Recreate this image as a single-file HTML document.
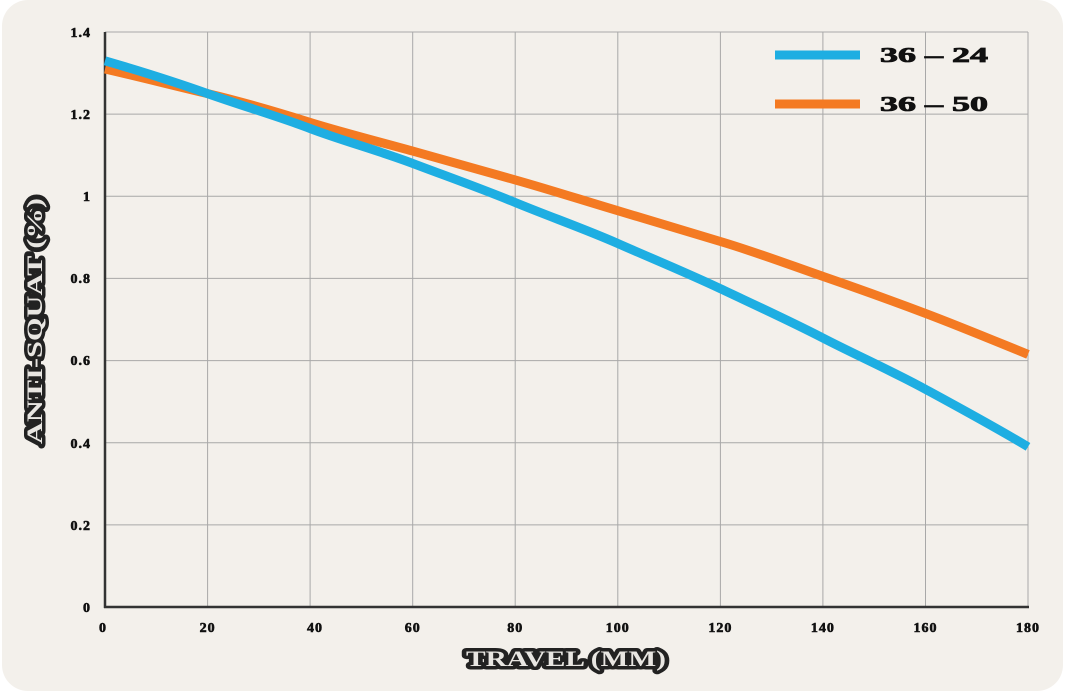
<!DOCTYPE html>
<html><head><style>
html,body{margin:0;padding:0;background:#fff;}
svg{display:block;}
text{font-family:"Liberation Serif",serif;font-weight:bold;}
</style></head><body>
<svg width="1065" height="691" viewBox="0 0 1065 691" xmlns="http://www.w3.org/2000/svg">
<rect x="2" y="0" width="1061" height="691" rx="26" fill="#f3f0eb"/>
<g stroke="#a8a8a8" stroke-width="1">
<line x1="207.6" y1="32" x2="207.6" y2="607"/><line x1="310.1" y1="32" x2="310.1" y2="607"/>
<line x1="412.7" y1="32" x2="412.7" y2="607"/><line x1="515.2" y1="32" x2="515.2" y2="607"/>
<line x1="617.8" y1="32" x2="617.8" y2="607"/><line x1="720.4" y1="32" x2="720.4" y2="607"/>
<line x1="822.9" y1="32" x2="822.9" y2="607"/><line x1="925.5" y1="32" x2="925.5" y2="607"/>
<line x1="1028" y1="32" x2="1028" y2="607"/>
<line x1="105" y1="32" x2="1028" y2="32"/><line x1="105" y1="114.1" x2="1028" y2="114.1"/>
<line x1="105" y1="196.3" x2="1028" y2="196.3"/><line x1="105" y1="278.4" x2="1028" y2="278.4"/>
<line x1="105" y1="360.6" x2="1028" y2="360.6"/><line x1="105" y1="442.7" x2="1028" y2="442.7"/>
<line x1="105" y1="524.9" x2="1028" y2="524.9"/>
</g>
<line x1="105" y1="32" x2="105" y2="608" stroke="#333" stroke-width="2.5"/>
<line x1="104" y1="607" x2="1029" y2="607" stroke="#333" stroke-width="2.5"/>
<g font-size="14" fill="#111" text-anchor="end" stroke="#111" stroke-width="0.6" letter-spacing="1">
<text x="91" y="37">1.4</text><text x="91" y="119">1.2</text><text x="91" y="201">1</text>
<text x="91" y="283">0.8</text><text x="91" y="365">0.6</text><text x="91" y="448">0.4</text>
<text x="91" y="530">0.2</text><text x="91" y="612">0</text>
</g>
<g font-size="14" fill="#111" text-anchor="middle" stroke="#111" stroke-width="0.6" letter-spacing="1">
<text x="103" y="632">0</text><text x="207.6" y="632">20</text><text x="315" y="632">40</text>
<text x="412.7" y="632">60</text><text x="515.2" y="632">80</text><text x="617.8" y="632">100</text>
<text x="720.4" y="632">120</text><text x="822.9" y="632">140</text><text x="925.5" y="632">160</text>
<text x="1028" y="632">180</text>
</g>
<path fill="none" stroke="#f47a22" stroke-width="9" d="M105,69 C140,77 175,86 207.6,93.6 S280,113 310.1,122.4 S380,142 412.7,151.1 S480,170 515.2,179.9 S585,201 617.8,210.7 S685,231 720.4,241.5 S790,265 822.9,276.4 S890,300 925.5,313.4 S995,341 1028,354.4"/>
<path fill="none" stroke="#1eaee2" stroke-width="9" d="M105,60.8 C140,71 175,82 207.6,93.6 S280,117 310.1,128.5 S380,151 412.7,163.4 S480,188 515.2,202.5 S585,229 617.8,243.5 S685,272 720.4,288.7 S790,321 822.9,338 S890,370 925.5,389.3 S995,427 1028,446.8"/>
<line x1="775" y1="55" x2="860" y2="55" stroke="#1eaee2" stroke-width="9"/>
<line x1="775" y1="104" x2="860" y2="104" stroke="#f47a22" stroke-width="9"/>
<text x="880" y="62" font-size="21" fill="#111" stroke="#111" stroke-width="0.8" textLength="108" lengthAdjust="spacingAndGlyphs">36 – 24</text>
<text x="880" y="111" font-size="21" fill="#111" stroke="#111" stroke-width="0.8" textLength="108" lengthAdjust="spacingAndGlyphs">36 – 50</text>
<text x="466" y="666" font-size="22" fill="#e8e6e2" stroke="#222" stroke-width="7" paint-order="stroke" stroke-linejoin="round" textLength="200" lengthAdjust="spacingAndGlyphs">TRAVEL (MM)</text>
<text transform="translate(42,444) rotate(-90)" font-size="22" fill="#e8e6e2" stroke="#222" stroke-width="7" paint-order="stroke" stroke-linejoin="round" textLength="246" lengthAdjust="spacingAndGlyphs">ANTI-SQUAT (%)</text>
</svg>
</body></html>
